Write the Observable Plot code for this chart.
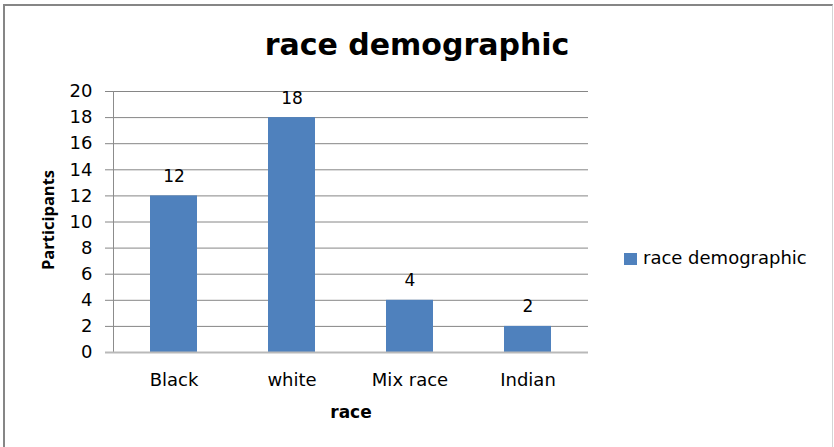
<!DOCTYPE html>
<html>
<head>
<meta charset="utf-8">
<script src="https://cdn.jsdelivr.net/npm/d3@7"></script>
<script src="https://cdn.jsdelivr.net/npm/@observablehq/plot@0.6"></script>
<style>
  body { margin: 0; background: #fff; }
  #chart { position: relative; width: 834px; height: 447px; overflow: hidden; font-family: "DejaVu Sans", sans-serif; }
  #border { position: absolute; left: 3px; top: 4px; width: 827px; height: 500px;
            border-left: 2px solid #868686; border-top: 2px solid #868686; border-right: 1px solid #d4d4d4; }
  #plot { position: absolute; left: 0; top: 0; }
  #title { position: absolute; left: 0; width: 834px; top: 30px; text-align: center;
           font-size: 30px; line-height: 30px; font-weight: bold; color: #000; }
  #legend { position: absolute; left: 624px; top: 249px; font-size: 18px; line-height: 18px; color: #000; white-space: nowrap; }
  #legend .swatch { position: absolute; left: 0; top: 4px; width: 13px; height: 12px; background: #4f81bd; }
  #legend .label { position: absolute; left: 19px; top: 0; }
</style>
</head>
<body>
<div id="chart">
  <div id="border"></div>
  <div id="plot"></div>
  <div id="title">race demographic</div>
  <div id="legend"><span class="swatch"></span><span class="label">race demographic</span></div>
</div>
<script>
// Participants by race
const categories = ["Black", "white", "Mix race", "Indian"];
const participants = [12, 18, 4, 2];
const yTicks = [0, 2, 4, 6, 8, 10, 12, 14, 16, 18, 20];

const data = categories.map((race, i) => ({race, participants: participants[i]}));

const chart = Plot.plot({
  width: 834,
  height: 447,
  marginLeft: 113,
  marginRight: 246,
  marginTop: 91,
  marginBottom: 95,
  style: {fontFamily: "DejaVu Sans, sans-serif", fontSize: "17px", color: "#000", background: "transparent"},
  x: {domain: categories, paddingInner: 0.6, paddingOuter: 0.3, label: null},
  y: {domain: [0, 20], label: null},
  marks: [
    // horizontal gridlines
    Plot.ruleY(yTicks.filter(d => d > 0), {stroke: "#868686", strokeWidth: 1}),
    // value axis with outward tick marks
    Plot.axisY({ticks: yTicks.filter(d => d > 0), tickSize: 8, tickPadding: 13, stroke: "#868686",
                fill: "#000", fontSize: 18, label: null}),
    Plot.axisY({ticks: [0], tickSize: 8, tickPadding: 13, stroke: "#b9b9b9", strokeWidth: 2,
                fill: "#000", fontSize: 18, label: null}),
    // vertical axis line
    Plot.frame({anchor: "left", stroke: "#8c8c8c"}),
    Plot.barY(data, {x: "race", y: "participants", fill: "#4f81bd"}),
    // baseline
    Plot.ruleY([0], {stroke: "#b9b9b9", strokeWidth: 2}),
    // value labels above the bars
    Plot.text(data, {x: "race", y: "participants", text: d => String(d.participants),
                     dy: -14, lineAnchor: "bottom", fontSize: 17, fill: "#000"}),
    Plot.axisX({tickSize: 0, tickPadding: 21, fontSize: 18, fill: "#000", label: null}),
    // axis titles
    Plot.text(["race"], {frameAnchor: "bottom", dy: 65, lineAnchor: "bottom", fontSize: 17,
                         fontWeight: "bold", fill: "#000"}),
    Plot.text(["Participants"], {frameAnchor: "left", dx: -65, dy: -2, rotate: -90, textAnchor: "middle",
                                 fontFamily: "Open Sans, sans-serif", fontSize: 16.5, fontWeight: "bold", fill: "#000"})
  ]
});

document.getElementById("plot").appendChild(chart);
</script>
</body>
</html>
